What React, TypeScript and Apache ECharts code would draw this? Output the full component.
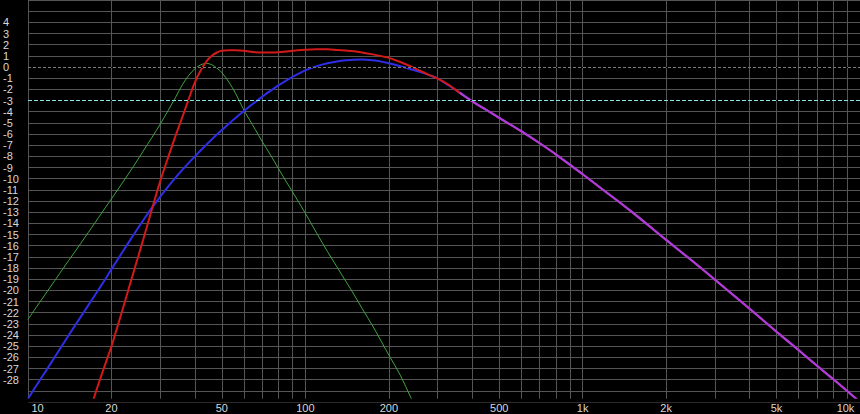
import React, { useEffect, useRef } from 'react';
import * as echarts from 'echarts';

// Frequency grid (Hz) shared by all series
const freqs = [10, 11, 12, 13, 14, 15, 16, 17, 18, 19, 20, 22, 24, 26, 28, 30, 32, 34, 36, 38, 40, 42, 44, 46, 48, 50, 53, 56, 60, 63, 66, 70, 75, 80, 85, 90, 100, 110, 120, 130, 140, 150, 160, 175, 190, 200, 220, 240, 260, 280, 300, 330, 360, 400, 450, 500, 600, 700, 800, 1000, 1200, 1500, 2000, 2500, 3000, 4000, 5000, 6000, 7000, 8000, 10000];

// Blue response (dB)
const blueDb = [-29.7, -28.1, -26.65, -25.3, -24.05, -22.9, -21.85, -20.85, -19.9, -19.0, -18.1, -16.5, -15.05, -13.75, -12.6, -11.6, -10.72, -9.93, -9.22, -8.58, -8.0, -7.45, -6.95, -6.48, -6.05, -5.65, -5.08, -4.57, -3.95, -3.52, -3.13, -2.65, -2.12, -1.65, -1.24, -0.88, -0.3, 0.08, 0.34, 0.5, 0.6, 0.66, 0.67, 0.6, 0.46, 0.33, 0.06, -0.2, -0.46, -0.73, -1.02, -1.68, -2.3, -3.08, -3.85, -4.55, -5.75, -6.83, -7.82, -9.6, -11.1, -12.95, -15.48, -17.42, -19.05, -21.65, -23.7, -25.35, -26.75, -27.95, -30.0];

// Red response (dB) up to where it joins the blue curve (null = below the view)
const redOwnDb = [null, null, null, null, null, null, null, -30.2, -28.3, -26.6, -25.0, -21.6, -18.4, -15.5, -12.7, -10.2, -8.1, -6.2, -4.5, -2.85, -1.35, -0.3, 0.5, 1.0, 1.3, 1.45, 1.5, 1.5, 1.46, 1.38, 1.32, 1.3, 1.3, 1.32, 1.38, 1.45, 1.55, 1.58, 1.58, 1.53, 1.47, 1.4, 1.3, 1.13, 0.95, 0.82, 0.45, 0.05, -0.35, -0.72, -1.05, -1.62];

// Green response (dB)
const greenDb = [-22.6, -21.1, -19.75, -18.5, -17.35, -16.3, -15.3, -14.35, -13.45, -12.6, -11.8, -10.3, -8.9, -7.55, -6.3, -5.1, -3.9, -2.75, -1.6, -0.75, -0.15, 0.2, 0.33, 0.2, -0.1, -0.5, -1.35, -2.35, -3.85, -4.75, -5.6, -6.7, -7.9, -9.1, -10.2, -11.2, -13.1, -14.9, -16.5, -17.9, -19.2, -20.4, -21.6, -23.2, -24.8, -25.8, -27.6, -29.6, -31.5];

const xGridFreqs = [10, 20, 30, 40, 50, 60, 70, 80, 90, 100, 200, 300, 400, 500, 600, 700, 800, 900, 1000, 2000, 3000, 4000, 5000, 6000, 7000, 8000, 9000, 10000];
const xLabelFreqs = [10, 20, 50, 100, 200, 500, 1000, 2000, 5000, 10000];
const Y_MIN = -30;
const Y_MAX = 6;
const Y_LABEL_TOP = 4;
const Y_LABEL_BOTTOM = -28;
const FLOOR_DB = -29.7;
const ZERO_LINE = 0;
const CUTOFF_LINE = -3;

const FONT = "'Liberation Sans', Arial, sans-serif";
const TEXT = '#d8d8d8';
const GRID = '#555555';

const redDb = freqs.map((_, i) => (i < redOwnDb.length ? redOwnDb[i] : blueDb[i]));
const toPairs = (vals: (number | null)[]) =>
  freqs.map((f, i) => [f, vals[i]]).filter((p) => p[1] !== null && p[1] !== undefined);
const mergedPairs = freqs
  .map((f, i) => [f, i >= redOwnDb.length ? blueDb[i] : null])
  .filter((p) => p[1] !== null);

export default function App() {
  const ref = useRef<HTMLDivElement>(null);
  useEffect(() => {
    const chart = echarts.init(ref.current!, null, { renderer: 'svg' });
    const lineBase = { type: 'line', showSymbol: false, symbol: 'none', smooth: 0.35, clip: true };
    chart.setOption({
      animation: false,
      backgroundColor: '#000000',
      textStyle: { fontFamily: FONT },
      grid: { left: 27, top: 0, width: 833, height: 402, containLabel: false },
      xAxis: {
        type: 'log',
        logBase: 10,
        min: 10,
        max: 10000,
        axisLine: { show: false },
        axisTick: { show: false, customValues: xGridFreqs },
        splitLine: { show: true, lineStyle: { color: GRID, width: 1 } },
        minorSplitLine: { show: false },
        axisLabel: {
          customValues: xLabelFreqs,
          showMinLabel: true,
          showMaxLabel: true,
          margin: 0,
          color: TEXT,
          fontSize: 11,
          fontFamily: FONT,
          formatter: (v: number) => {
            const s = v >= 1000 ? `${v / 1000}k` : `${v}`;
            if (v === xLabelFreqs[0]) return `{l|${s}}`;
            if (v === xLabelFreqs[xLabelFreqs.length - 1]) return `{r|${s}}`;
            return s;
          },
          rich: {
            l: { padding: [0, 0, 0, 19], fontSize: 11, color: TEXT, fontFamily: FONT },
            r: { padding: [0, 29, 0, 0], fontSize: 11, color: TEXT, fontFamily: FONT },
          },
        },
      },
      yAxis: {
        type: 'value',
        min: Y_MIN,
        max: Y_MAX,
        interval: 1,
        axisLine: { show: false },
        axisTick: { show: false },
        splitLine: { show: true, lineStyle: { color: GRID, width: 1 } },
        axisLabel: {
          align: 'left',
          margin: 25,
          color: TEXT,
          fontSize: 11,
          fontFamily: FONT,
          formatter: (v: number) => (v <= Y_LABEL_TOP && v >= Y_LABEL_BOTTOM ? `${v}` : ''),
        },
      },
      series: [
        {
          ...lineBase,
          name: 'green',
          data: toPairs(greenDb),
          lineStyle: { color: '#3fa53f', width: 1 },
          markLine: {
            silent: true,
            symbol: 'none',
            label: { show: false },
            data: [
              { yAxis: ZERO_LINE, lineStyle: { color: '#000000', type: 'solid', width: 1 } },
              { yAxis: CUTOFF_LINE, lineStyle: { color: '#000000', type: 'solid', width: 1 } },
              { yAxis: ZERO_LINE, lineStyle: { color: '#7c7c7c', type: [3, 2], width: 1 } },
              { yAxis: CUTOFF_LINE, lineStyle: { color: '#86e6e6', type: [4, 2], width: 1 } },
            ],
          },
        },
        { ...lineBase, name: 'blue', data: toPairs(blueDb), lineStyle: { color: '#2e2ee8', width: 2 } },
        { ...lineBase, name: 'red', data: toPairs(redDb), lineStyle: { color: '#d21a1a', width: 2 } },
        { ...lineBase, name: 'merged', data: mergedPairs, lineStyle: { color: '#a83ee0', width: 2 } },
      ],
    });
    const floorY = chart.convertToPixel({ yAxisIndex: 0 }, FLOOR_DB) as number;
    const baseY = chart.convertToPixel({ yAxisIndex: 0 }, Y_MIN) as number;
    chart.setOption({
      graphic: [
        {
          type: 'rect',
          z: 100,
          silent: true,
          shape: { x: 0, y: floorY, width: 860, height: baseY - floorY + 0.5 },
          style: { fill: '#000000' },
        },
      ],
    });
    return () => chart.dispose();
  }, []);
  return (
    <div
      ref={ref}
      style={{ position: 'fixed', left: 0, top: 0, width: 860, height: 414, background: '#000' }}
    />
  );
}
